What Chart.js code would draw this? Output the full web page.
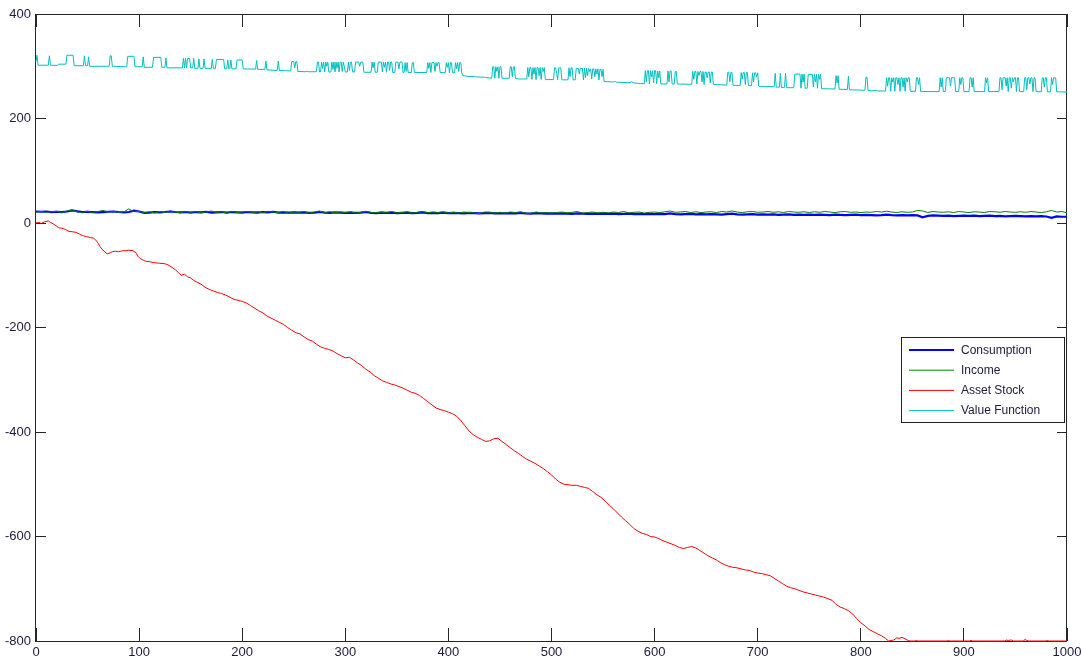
<!DOCTYPE html>
<html>
<head>
<meta charset="utf-8">
<script src="https://cdn.jsdelivr.net/npm/chart.js@4/dist/chart.umd.min.js"></script>
<style>
  html, body { margin: 0; padding: 0; background: #ffffff; }
  canvas { display: block; }
</style>
</head>
<body>
<canvas id="chart" width="1083" height="665"></canvas>
<script>
// Simulation periods 0..1000, sampled every 5 for consumption and income
const samplePeriods = Array.from({ length: 201 }, (_, i) => i * 5);

const consumption = [
  22, 21.5, 22, 21, 21.5, 21, 22, 24, 22.5, 21, 21.5,
  21, 20.5, 21, 21.5, 22, 21, 20.5, 21, 23.5, 22,
  19.5, 20, 21, 20.5, 21, 22, 21, 20.5, 21, 20,
  21, 20.5, 21.5, 20, 20.5, 21, 20, 21, 20.5, 20,
  21, 20.5, 20, 21, 20.5, 21.5, 20, 20.5, 20, 20.5,
  20, 20.5, 19.5, 20, 21, 20, 19.5, 20.5, 20, 19.5,
  20, 19.5, 20, 21, 19.5, 19, 20, 19.5, 20, 19,
  19.5, 20, 19, 19.5, 20.5, 19, 19.5, 19, 20, 19,
  19.5, 19, 18.5, 19.5, 19, 18.5, 19, 19.5, 18.5, 19,
  18.5, 19, 18.5, 19.5, 18.5, 18, 19, 18.5, 18, 18.5,
  18, 18.5, 18, 17.5, 18.5, 18, 17.5, 18, 17.5, 18,
  17.5, 18, 17, 17.5, 18, 17, 17.5, 17, 17.5, 17,
  17.5, 17, 18.5, 17, 16.5, 17, 17.5, 16.5, 17, 16.5,
  17, 16.5, 16, 17, 18, 16.5, 16, 16.5, 17, 16,
  16.5, 16, 16.5, 15.5, 16, 16.5, 15.5, 16, 15.5, 16,
  15.5, 16, 15.5, 15, 16, 15.5, 15, 15.5, 16, 15,
  15.5, 15, 14.5, 15, 16, 15, 14.5, 15, 14.5, 15,
  14.5, 11, 13.5, 14.5, 14, 13.5, 14, 13, 13.5, 14,
  13.5, 14, 13, 13.5, 14, 13, 13.5, 12.5, 13, 13.5,
  13, 12.5, 13, 12.5, 13, 12.5, 10, 12.5, 12, 12
];

const income = [
  21, 22, 20.5, 21.5, 22.5, 20, 23, 25, 21, 20, 22.5,
  20, 22, 24, 21, 22.5, 20.5, 21, 27, 21.5, 22,
  20, 21.5, 19, 22, 20, 23, 21, 19.5, 22, 20.5,
  22, 19.5, 21, 23, 20, 21.5, 19, 22, 20, 21,
  22, 20, 21.5, 19.5, 22.5, 21, 20, 22, 19, 21,
  20.5, 22, 19, 21, 23, 20, 21.5, 19.5, 21, 20,
  21.5, 19, 20.5, 22.5, 20, 19.5, 21, 20, 22, 19.5,
  20, 21.5, 19, 20.5, 22, 19.5, 21, 20, 21.5, 19,
  20.5, 19, 21, 20, 19.5, 18, 21, 20.5, 19, 20.5,
  19, 21, 20, 21.5, 19, 18.5, 21, 19.5, 20, 19,
  20, 21, 19.5, 20.5, 22, 19, 20, 21, 19.5, 20.5,
  19.5, 21, 20, 22, 19.5, 20.5, 21, 19, 20.5, 21,
  20, 21.5, 23, 20.5, 21, 22, 20, 21.5, 20, 21,
  21.5, 20, 22, 21, 23, 21, 20, 21.5, 22, 20.5,
  21, 22, 20.5, 21.5, 20, 22, 21, 20.5, 21.5, 20,
  21.5, 20.5, 22, 21, 20, 21.5, 22, 20.5, 21, 20,
  21, 20.5, 22, 21, 22.5, 21, 20, 21.5, 20.5, 21,
  24, 23, 20, 22, 21, 20.5, 21.5, 20, 22, 21,
  20, 21.5, 21, 20, 22, 21.5, 20.5, 22, 21, 20.5,
  21.5, 20.5, 22, 21, 20, 21.5, 24, 21, 22, 19.5
];

// Asset stock path: [period, level]
const assetStock = [
  [0, 0], [3, 1], [5, -1], [8, 2], [12, 4], [14, 1], [17, -2], [20, -6], [22, -9], [25, -10],
  [27, -11], [30, -14], [32, -16], [36, -17], [39, -18], [42, -21], [45, -24], [49, -26], [53, -28], [56, -29],
  [58, -33], [60, -38], [62, -45], [64, -50], [66, -54], [69, -59], [72, -57], [74, -55], [77, -54], [80, -55],
  [84, -53], [87, -53], [90, -52], [94, -53], [97, -57], [99, -64], [101, -68], [103, -70], [106, -73], [110, -74],
  [115, -76], [120, -77], [125, -78], [128, -80], [132, -85], [135, -89], [138, -95], [141, -100], [144, -98], [147, -103],
  [150, -105], [153, -110], [156, -113], [160, -117], [164, -123], [168, -127], [172, -130], [176, -133], [180, -135], [184, -138],
  [188, -142], [192, -146], [196, -148], [200, -150], [204, -153], [208, -158], [212, -163], [216, -168], [220, -172], [224, -178],
  [228, -182], [232, -186], [236, -190], [240, -194], [244, -200], [248, -205], [252, -210], [256, -212], [260, -218], [264, -223],
  [268, -226], [272, -232], [276, -237], [280, -240], [284, -242], [288, -245], [292, -250], [296, -254], [300, -258], [304, -257],
  [308, -262], [312, -268], [316, -273], [320, -280], [324, -285], [328, -292], [332, -297], [336, -302], [340, -305], [344, -308],
  [348, -310], [352, -313], [356, -316], [360, -320], [364, -324], [368, -326], [372, -330], [376, -336], [380, -342], [384, -348],
  [388, -354], [392, -357], [396, -359], [400, -362], [404, -365], [408, -370], [412, -378], [416, -388], [420, -398], [424, -405],
  [428, -410], [432, -414], [436, -418], [440, -417], [444, -413], [448, -412], [452, -418], [456, -424], [460, -430], [464, -436],
  [468, -441], [472, -447], [476, -452], [480, -456], [484, -460], [488, -465], [492, -470], [496, -476], [500, -482], [504, -490],
  [508, -496], [512, -500], [516, -501], [520, -502], [524, -502], [528, -504], [532, -506], [536, -508], [540, -514], [544, -520],
  [548, -525], [552, -532], [556, -540], [560, -547], [564, -555], [568, -563], [572, -570], [576, -577], [580, -585], [584, -590],
  [588, -594], [592, -596], [596, -600], [600, -601], [604, -604], [608, -608], [612, -611], [616, -614], [620, -617], [624, -621],
  [628, -623], [632, -621], [636, -619], [640, -622], [644, -627], [648, -632], [652, -637], [656, -641], [660, -645], [664, -650],
  [668, -654], [672, -657], [676, -659], [680, -660], [684, -662], [688, -664], [692, -665], [696, -668], [700, -670], [704, -671],
  [708, -673], [712, -675], [716, -680], [720, -685], [724, -690], [728, -695], [732, -698], [736, -700], [740, -703], [744, -706],
  [748, -708], [752, -710], [756, -712], [760, -714], [764, -716], [768, -719], [772, -722], [776, -730], [780, -735], [784, -738],
  [788, -742], [792, -748], [796, -757], [800, -765], [804, -771], [808, -778], [812, -782], [816, -786], [820, -790], [824, -795],
  [827, -800], [832, -798], [835, -794], [837, -795], [840, -793], [843, -796], [846, -799], [848, -800], [853, -800], [854, -798],
  [855, -800], [884, -800], [885, -798], [886, -800], [906, -800], [907, -798], [908, -800], [940, -800], [941, -798], [943, -799],
  [946, -798], [948, -800], [958, -800], [959, -797], [961, -799], [963, -800], [980, -800], [981, -798], [982, -800], [1000, -800]
];

// Value function path: [period, value]
const valueFunction = [
  [0, 309], [1, 321], [2, 302], [12, 302], [13, 320], [14, 302], [21, 301.5], [22, 304], [29, 304], [30, 321],
  [36, 321], [37, 301], [46, 301], [47, 320], [48, 301], [50, 301], [51, 318], [52, 300], [71, 300], [72, 320],
  [73, 320], [74, 300], [88, 299], [89, 319], [95, 319], [96, 299], [103, 299], [104, 318], [105, 298], [113, 298],
  [114, 317], [121, 317], [122, 298], [125, 298], [126, 316], [127, 297], [142, 297], [143, 315], [144, 297], [145, 315],
  [146, 297], [147, 315], [149, 315], [150, 297], [152, 297], [153, 315], [154, 296], [157, 296], [158, 314], [159, 296],
  [162, 296], [163, 314], [164, 296], [170, 296], [171, 313], [172, 296], [174, 296], [175, 313], [182, 313], [183, 295],
  [185, 295], [186, 312], [187, 295], [188, 295], [189, 312], [190, 295], [194, 295], [195, 312], [200, 312], [201, 295],
  [213, 294.5], [214, 311], [215, 294], [222, 294], [223, 310], [224, 293], [234, 292], [235, 310], [236, 292], [241, 291.6],
  [247, 291], [248, 309], [250, 309], [251, 297], [252, 309], [253, 309], [254, 290], [262, 289.5], [263, 290.5], [264, 289.5],
  [272, 289.5], [273, 308], [274, 308], [275, 289], [276, 289], [277, 308], [278, 296], [279, 308], [280, 289], [281, 308],
  [282, 300], [283, 308], [284, 289], [286, 289], [287, 308], [288, 294], [289, 308], [290, 289], [291, 308], [292, 296],
  [293, 308], [294, 289], [295, 308], [296, 308], [297, 290], [298, 308], [299, 300], [300, 289], [302, 289], [303, 308],
  [304, 292], [305, 308], [306, 308], [307, 289], [309, 289], [310, 308], [313, 308], [314, 300], [315, 308], [317, 308],
  [318, 288.5], [325, 288.5], [326, 308], [327, 297], [328, 308], [329, 288.5], [331, 288.5], [332, 308], [335, 308], [336, 289],
  [337, 308], [338, 298], [339, 308], [340, 288.5], [341, 308], [342, 308], [343, 292], [344, 308], [345, 308], [346, 288],
  [348, 288], [349, 308], [351, 308], [352, 295], [353, 308], [355, 308], [356, 288], [357, 288], [358, 307], [359, 290],
  [360, 307], [361, 288], [364, 288], [365, 307], [366, 307], [367, 288], [379, 288], [380, 307], [381, 296], [382, 307],
  [383, 288], [384, 307], [386, 307], [387, 290], [388, 307], [389, 300], [390, 307], [391, 307], [392, 288], [397, 287.5],
  [398, 307], [399, 298], [400, 307], [401, 287.5], [402, 307], [403, 307], [404, 287.5], [406, 287.5], [407, 307], [408, 295],
  [409, 307], [410, 290], [411, 307], [412, 307], [413, 287], [414, 282], [420, 280.5], [425, 280], [426, 281], [427, 279.5],
  [435, 279], [436, 278.5], [442, 277], [443, 299], [444, 299], [445, 277], [446, 299], [447, 290], [448, 299], [449, 277],
  [450, 299], [451, 299], [452, 277], [459, 277], [460, 299], [461, 299], [462, 280], [463, 299], [464, 299], [465, 276.5],
  [468, 275.7], [476, 275.7], [477, 297.5], [478, 280], [479, 297.5], [480, 297.5], [481, 275], [482, 297.5], [483, 285], [484, 297.5],
  [485, 274.5], [486, 297.5], [487, 297.5], [488, 282], [489, 297.5], [490, 274.5], [491, 297.5], [492, 290], [493, 297.5], [494, 274.5],
  [502, 274.5], [503, 297], [504, 297], [505, 286], [506, 274], [507, 297], [508, 297], [509, 297], [510, 274], [516, 274],
  [517, 297], [518, 280], [519, 297], [520, 297], [521, 274], [523, 274], [524, 296], [526, 296], [527, 285], [528, 296],
  [530, 296], [531, 274], [532, 296], [533, 278], [534, 296], [535, 282], [536, 296], [537, 290], [538, 295], [539, 276],
  [540, 295], [541, 295], [542, 280], [543, 295], [544, 285], [545, 295], [546, 274], [547, 294], [548, 294], [549, 280],
  [550, 294], [551, 271], [552, 270.6], [560, 270], [562, 271], [563, 269.5], [575, 268.5], [578, 270], [580, 268], [586, 267],
  [590, 266.5], [591, 291.6], [592, 270], [593, 291.6], [594, 291.6], [595, 266.5], [596, 291.6], [597, 280], [598, 291.6], [599, 268],
  [600, 291.6], [601, 291.6], [602, 266.5], [603, 291], [604, 278], [605, 291], [606, 266], [612, 266], [613, 291], [614, 270],
  [615, 291], [616, 291], [617, 266], [619, 266], [620, 290], [621, 290], [622, 266], [636, 265.5], [637, 290], [638, 275],
  [639, 290], [640, 290], [641, 266], [642, 290], [643, 282], [644, 290], [645, 290], [646, 270], [647, 290], [648, 265],
  [649, 289], [650, 289], [651, 278], [652, 289], [653, 289], [654, 268], [655, 289], [656, 289], [657, 265], [670, 264],
  [671, 288.5], [672, 288.5], [673, 270], [674, 288.5], [675, 288.5], [676, 263.5], [683, 263], [684, 288], [685, 275], [686, 288],
  [687, 288], [688, 265], [689, 288], [690, 288], [691, 263], [694, 262.5], [695, 287.5], [696, 270], [697, 287.5], [698, 287.5],
  [699, 280], [700, 287.5], [701, 262], [702, 261], [716, 261], [717, 286.6], [718, 260], [721, 260], [722, 286.5], [723, 259.5],
  [726, 259.5], [727, 286.5], [728, 259], [735, 259], [736, 285], [741, 285], [742, 258], [743, 285], [744, 270], [745, 285],
  [746, 258], [748, 258], [749, 284.5], [753, 284.5], [754, 260], [755, 284.5], [756, 270], [757, 284.5], [758, 258], [759, 284.5],
  [760, 275], [761, 284.5], [762, 257], [775, 256.5], [776, 282], [777, 268], [778, 282], [779, 256], [787, 255.5], [788, 281],
  [789, 255], [804, 254], [805, 279], [806, 279], [807, 253.5], [810, 253], [815, 253.5], [816, 252.8], [824, 252.5], [825, 278],
  [826, 262], [827, 278], [828, 278], [829, 252], [830, 278], [831, 270], [832, 278], [833, 252], [834, 278], [835, 278],
  [836, 265], [837, 278], [838, 252], [839, 278], [840, 278], [841, 260], [842, 278], [843, 252], [844, 278], [845, 270],
  [846, 278], [847, 278], [848, 252], [853, 252], [854, 278], [855, 278], [856, 265], [857, 278], [858, 251.5], [876, 251.5],
  [877, 278], [878, 260], [879, 278], [880, 251.5], [882, 251.5], [883, 278], [886, 278], [887, 262], [888, 278], [891, 278],
  [892, 251.5], [895, 251.5], [896, 278], [897, 265], [898, 278], [899, 278], [900, 251.5], [905, 251.5], [906, 278], [907, 278],
  [908, 260], [909, 278], [910, 251.5], [920, 251.5], [921, 278], [922, 268], [923, 278], [924, 251.5], [934, 251.5], [935, 278],
  [936, 278], [937, 255], [938, 278], [939, 278], [940, 278], [941, 262], [942, 278], [943, 251.5], [944, 278], [945, 278],
  [946, 258], [947, 278], [948, 270], [949, 278], [950, 278], [951, 251.5], [952, 278], [953, 278], [954, 251.5], [958, 251.5],
  [959, 278], [960, 278], [961, 255], [962, 278], [963, 278], [964, 266], [965, 278], [966, 278], [967, 251.5], [968, 278],
  [969, 278], [970, 251.5], [975, 251], [976, 278], [977, 278], [978, 260], [979, 278], [980, 278], [981, 251], [984, 251],
  [985, 278], [986, 265], [987, 278], [988, 278], [989, 278], [990, 251], [1000, 250.8]
];

const seriesNames = ['Consumption', 'Income', 'Asset Stock', 'Value Function'];
const seriesColors = ['#0000ff', '#008000', '#ff0000', '#00bfbf'];
const seriesWidths = [2.2, 1, 1, 1];
const xTicks = [0, 100, 200, 300, 400, 500, 600, 700, 800, 900, 1000];
const yTicks = [-800, -600, -400, -200, 0, 200, 400];

const labelColor = '#1c1a3c';
const tickFont = { family: "'Liberation Sans', Arial, sans-serif", size: 13 };

const fromSamples = (ys) => samplePeriods.map((x, i) => ({ x, y: ys[i] }));
const fromPairs = (pairs) => pairs.map(([x, y]) => ({ x, y }));

const seriesData = [
  fromSamples(consumption),
  fromSamples(income),
  fromPairs(assetStock),
  fromPairs(valueFunction)
];

// Box around the plot area with inward tick marks on all four sides
const axesBox = {
  id: 'axesBox',
  beforeDatasetsDraw(chart) {
    const { ctx, chartArea: a, scales } = chart;
    ctx.save();
    ctx.strokeStyle = '#262626';
    ctx.lineWidth = 1;
    ctx.strokeRect(a.left - 0.5, a.top + 0.5, a.right - a.left, a.bottom - a.top);
    ctx.beginPath();
    xTicks.forEach(v => {
      const px = Math.floor(scales.x.getPixelForValue(v)) + 0.5;
      ctx.moveTo(px, a.bottom); ctx.lineTo(px, a.bottom - 13);
      ctx.moveTo(px, a.top); ctx.lineTo(px, a.top + 13);
    });
    yTicks.forEach(v => {
      const py = Math.floor(scales.y.getPixelForValue(v)) + 0.5;
      ctx.moveTo(a.left, py); ctx.lineTo(a.left + 10, py);
      ctx.moveTo(a.right, py); ctx.lineTo(a.right - 10, py);
    });
    ctx.stroke();
    ctx.restore();
  }
};

// Series key drawn inside the plot, right side
const seriesKey = {
  id: 'seriesKey',
  afterDatasetsDraw(chart) {
    const { ctx } = chart;
    const box = { x: 901.5, y: 337.5, w: 163, h: 85 };
    ctx.save();
    ctx.fillStyle = '#ffffff';
    ctx.fillRect(box.x, box.y, box.w, box.h);
    ctx.strokeStyle = '#222222';
    ctx.lineWidth = 1;
    ctx.strokeRect(box.x, box.y, box.w, box.h);
    ctx.font = "12px 'Liberation Sans', Arial, sans-serif";
    ctx.textBaseline = 'middle';
    ctx.textAlign = 'left';
    chart.data.datasets.forEach((ds, i) => {
      const y = 350 + i * 20.2;
      ctx.strokeStyle = ds.borderColor;
      ctx.lineWidth = ds.borderWidth;
      ctx.beginPath();
      ctx.moveTo(909, y);
      ctx.lineTo(954, y);
      ctx.stroke();
      ctx.fillStyle = labelColor;
      ctx.fillText(ds.label, 961, y + 0.5);
    });
    ctx.restore();
  }
};

new Chart(document.getElementById('chart'), {
  type: 'line',
  data: {
    datasets: seriesNames.map((name, i) => ({
      label: name,
      data: seriesData[i],
      borderColor: seriesColors[i],
      backgroundColor: seriesColors[i],
      borderWidth: seriesWidths[i],
      pointRadius: 0,
      tension: 0,
      fill: false,
      clip: 2,
      order: seriesNames.length - i
    }))
  },
  options: {
    responsive: false,
    animation: false,
    events: [],
    layout: { padding: { top: 14, right: 16, left: 0, bottom: 0 } },
    plugins: { legend: { display: false }, tooltip: { enabled: false } },
    scales: {
      x: {
        type: 'linear',
        min: 0,
        max: 1000,
        grid: { display: false, drawTicks: false },
        border: { display: false },
        afterBuildTicks: (s) => { s.ticks = xTicks.map(v => ({ value: v })); },
        ticks: {
          autoSkip: false, maxRotation: 0, padding: 4, color: labelColor, font: tickFont,
          callback: (v) => String(v)
        },
        afterFit: (s) => { s.height = 24; s.paddingLeft = 0; s.paddingRight = 0; }
      },
      y: {
        type: 'linear',
        min: -800,
        max: 400,
        grid: { display: false, drawTicks: false },
        border: { display: false },
        afterBuildTicks: (s) => { s.ticks = yTicks.map(v => ({ value: v })); },
        ticks: {
          autoSkip: false, padding: 5, color: labelColor, font: tickFont,
          callback: (v) => String(v)
        },
        afterFit: (s) => { s.width = 36; s.paddingTop = 0; s.paddingBottom = 0; }
      }
    }
  },
  plugins: [axesBox, seriesKey]
});
</script>
</body>
</html>
